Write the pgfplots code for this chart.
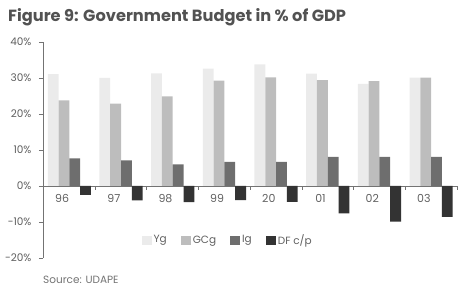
\documentclass[border=0pt]{standalone}
\usepackage{pgfplots}
\pgfplotsset{compat=1.18}
\usepackage{fontspec}
\setmainfont{Poppins}
\definecolor{cYg}{HTML}{EBEBEB}
\definecolor{cGC}{HTML}{BDBDBD}
\definecolor{cIg}{HTML}{6E6E6E}
\definecolor{cDF}{HTML}{333333}
\definecolor{txt}{HTML}{606060}
\begin{document}
\begin{tikzpicture}
\begin{axis}[
  scale only axis,
  width=415pt, height=216pt,
  xmin=-0.51, xmax=7.52,
  ymin=-20, ymax=40,
  axis y line=left, axis x line=middle,
  axis line style={draw=black!55, line width=0.8pt, -},
  ybar=0pt, bar width=10.8pt,
  ytick={-20,-10,0,10,20,30,40},
  yticklabels={-20\%,-10\%,0\%,10\%,20\%,30\%,40\%},
  y tick label style={font=\fontsize{10.5}{12}\selectfont, text=txt, xshift=-4pt},
  ytick style={draw=black!55, line width=0.8pt},
  tick align=outside,
  major tick length=4pt,
  xtick={-0.14,0.86,1.86,2.86,3.86,4.86,5.86,6.86},
  xticklabels={96,97,98,99,20,01,02,03},
  x tick label style={font=\fontsize{11}{12}\selectfont, text=txt, yshift=-1pt},
  x tick style={draw=none},
  minor xtick={0.5,1.5,2.5,3.5,4.5,5.5,6.5,7.5},
  minor x tick style={draw=black!55, line width=0.8pt},
  minor tick length=4pt,
  legend style={draw=none, fill=none, at={(rel axis cs:0.445,0.083)}, anchor=center,
    font=\fontsize{10.5}{12}\selectfont, text=txt, legend columns=4,
    /tikz/every even column/.append style={column sep=12pt}},
  legend image code/.code={\fill[#1] (0pt,-4.5pt) rectangle (10pt,4.5pt);},
  clip=false,
]
\addplot[fill=cYg, draw=none] coordinates {(0,31.1) (1,30.0) (2,31.3) (3,32.6) (4,33.8) (5,31.2) (6,28.4) (7,30.1)};
\addplot[fill=cGC, draw=none] coordinates {(0,23.8) (1,22.9) (2,24.9) (3,29.3) (4,30.2) (5,29.4) (6,29.1) (7,30.1)};
\addplot[fill=cIg, draw=none] coordinates {(0,7.7) (1,7.1) (2,6.0) (3,6.7) (4,6.7) (5,8.1) (6,8.1) (7,8.1)};
\addplot[fill=cDF, draw=none] coordinates {(0,-2.5) (1,-4.0) (2,-4.5) (3,-3.9) (4,-4.4) (5,-7.6) (6,-9.9) (7,-8.6)};
\legend{Yg, GCg, Ig, DF c/p}
\coordinate (ll) at (rel axis cs:0,0);
\coordinate (ur) at (rel axis cs:1,1);
\node[anchor=base west, font=\fontsize{16.2}{19}\selectfont\bfseries, text=black!68, inner sep=0pt]
  at ([xshift=-35pt, yshift=20pt]rel axis cs:0,1) {Figure 9: Government Budget in \% of GDP};
\node[anchor=west, font=\fontsize{10.5}{12}\selectfont, text=black!55, inner sep=0pt]
  at ([yshift=-22pt]rel axis cs:0,0) {Source: UDAPE};
\end{axis}
\pgfresetboundingbox
\path ([xshift=-43pt,yshift=-42pt]ll) rectangle ([xshift=11pt,yshift=42pt]ur);
\end{tikzpicture}
\end{document}
